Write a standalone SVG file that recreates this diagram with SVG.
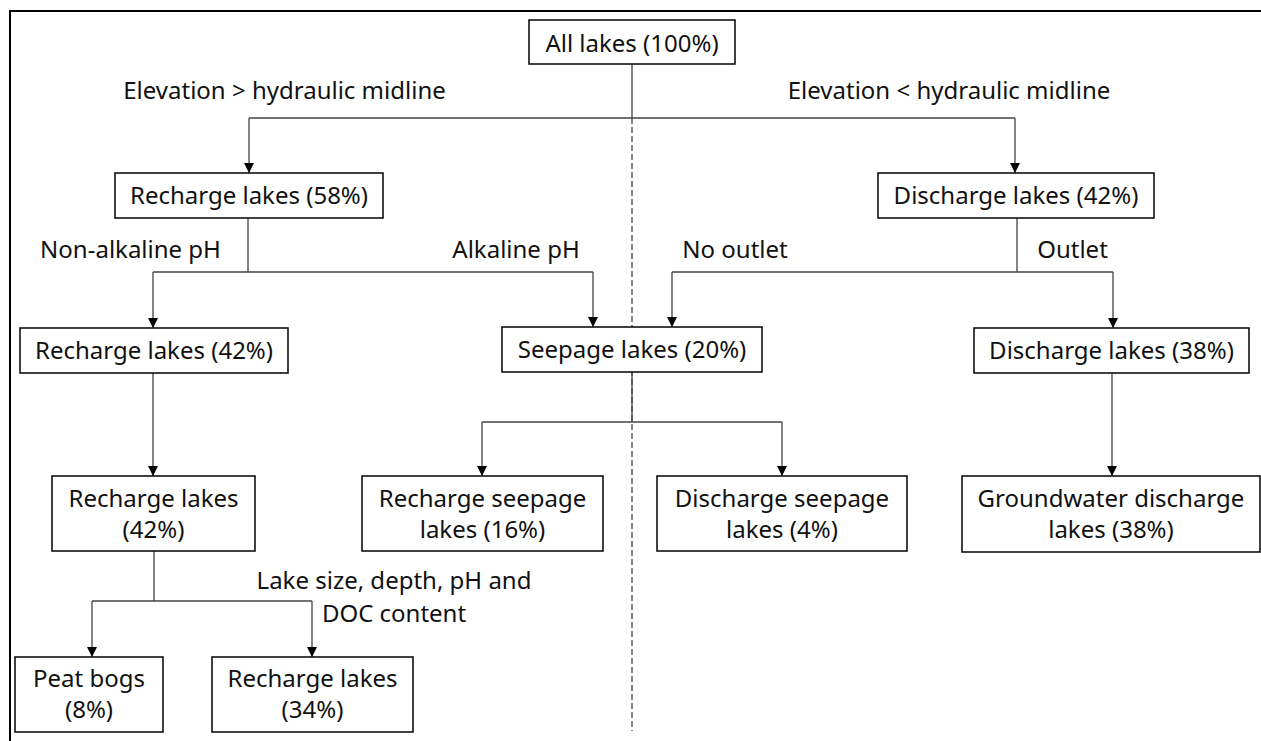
<svg xmlns="http://www.w3.org/2000/svg" width="1261" height="741" viewBox="0 0 1261 741">
<defs>
<marker id="ah" viewBox="0 0 10 10" refX="10" refY="5" markerWidth="10" markerHeight="10" markerUnits="userSpaceOnUse" orient="auto">
<path d="M0,0 L10,5 L0,10 z" fill="#000"/>
</marker>
<style>
text{font-family:"Noto Sans","Open Sans","Liberation Sans",sans-serif;font-size:24px;fill:#111;}
.c{text-anchor:middle;}
.box{fill:#fff;stroke:#111;stroke-width:1.6;}
.ln{fill:none;stroke:#444;stroke-width:1.3;}
.ar{fill:none;stroke:#444;stroke-width:1.3;marker-end:url(#ah);}
.dash{fill:none;stroke:#333;stroke-width:1.2;stroke-dasharray:6 3;}
</style>
</defs>
<rect width="1261" height="741" fill="#fff"/>
<path d="M10,741 V11 H1261" fill="none" stroke="#000" stroke-width="2"/>
<g id="connectors">
<path class="dash" d="M632,118 V731"/>
<path class="ln" d="M632,64 V118 M249,118 H1015"/>
<path class="ar" d="M249,118 V173"/>
<path class="ar" d="M1015,118 V173"/>
<path class="ln" d="M248,218 V272 M153,272 H593"/>
<path class="ar" d="M153,272 V328"/>
<path class="ar" d="M593,272 V327"/>
<path class="ln" d="M1017,218 V272 M672,272 H1113"/>
<path class="ar" d="M672,272 V327"/>
<path class="ar" d="M1113,272 V328"/>
<path class="ar" d="M153,373 V476"/>
<path class="ln" d="M632,372 V422 M482,422 H782"/>
<path class="ar" d="M482,422 V476"/>
<path class="ar" d="M782,422 V476"/>
<path class="ar" d="M1112,373 V476"/>
<path class="ln" d="M154,551 V601 M92,601 H312"/>
<path class="ar" d="M92,601 V657"/>
<path class="ar" d="M312,601 V657"/>
</g>
<g id="labels">
<text class="c" x="284.5" y="99">Elevation &gt; hydraulic midline</text>
<text class="c" x="949" y="99">Elevation &lt; hydraulic midline</text>
<text class="c" x="130.5" y="258">Non-alkaline pH</text>
<text class="c" x="516" y="258">Alkaline pH</text>
<text class="c" x="735" y="258">No outlet</text>
<text class="c" x="1072.5" y="258">Outlet</text>
<text class="c" x="394" y="589">Lake size, depth, pH and</text>
<text class="c" x="394" y="622">DOC content</text>
</g>
<g id="n-all"><rect class="box" x="529" y="20" width="206" height="44"/><text class="c" x="632" y="52">All lakes (100%)</text></g>
<g id="n-rech58"><rect class="box" x="115" y="173" width="268" height="45"/><text class="c" x="249" y="204">Recharge lakes (58%)</text></g>
<g id="n-dis42"><rect class="box" x="878" y="173" width="276" height="45"/><text class="c" x="1016" y="204">Discharge lakes (42%)</text></g>
<g id="n-rech42"><rect class="box" x="20" y="328" width="268" height="45"/><text class="c" x="154" y="359">Recharge lakes (42%)</text></g>
<g id="n-seep20"><rect class="box" x="502" y="327" width="260" height="45"/><text class="c" x="632" y="358">Seepage lakes (20%)</text></g>
<g id="n-dis38"><rect class="box" x="974" y="328" width="275" height="45"/><text class="c" x="1111.5" y="359">Discharge lakes (38%)</text></g>
<g id="n-rech42b"><rect class="box" x="52" y="476" width="203" height="75"/><text class="c" x="153.5" y="507">Recharge lakes</text><text class="c" x="153.5" y="538">(42%)</text></g>
<g id="n-rseep16"><rect class="box" x="362" y="476" width="241" height="75"/><text class="c" x="482.5" y="507">Recharge seepage</text><text class="c" x="482.5" y="538">lakes (16%)</text></g>
<g id="n-dseep4"><rect class="box" x="657" y="476" width="250" height="75"/><text class="c" x="782" y="507">Discharge seepage</text><text class="c" x="782" y="538">lakes (4%)</text></g>
<g id="n-gw38"><rect class="box" x="962" y="476" width="298" height="76"/><text class="c" x="1111" y="507">Groundwater discharge</text><text class="c" x="1111" y="538">lakes (38%)</text></g>
<g id="n-peat8"><rect class="box" x="15" y="657" width="148" height="75"/><text class="c" x="89" y="687">Peat bogs</text><text class="c" x="89" y="718">(8%)</text></g>
<g id="n-rech34"><rect class="box" x="212" y="657" width="201" height="75"/><text class="c" x="312.5" y="687">Recharge lakes</text><text class="c" x="312.5" y="718">(34%)</text></g>
</svg>
